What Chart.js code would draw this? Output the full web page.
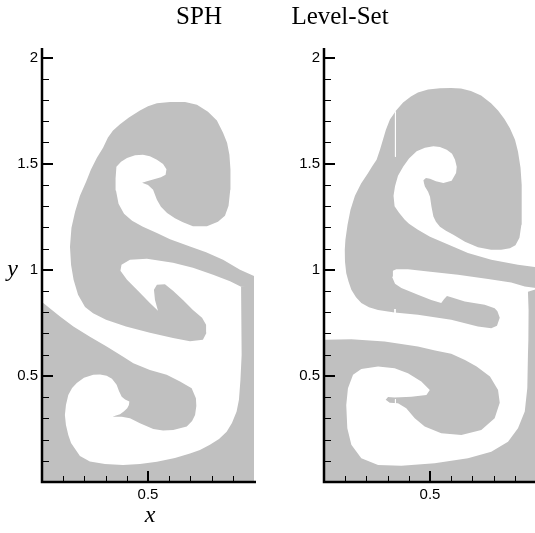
<!DOCTYPE html>
<html>
<head>
<meta charset="utf-8">
<script src="https://cdn.jsdelivr.net/npm/chart.js@4.4.1/dist/chart.umd.min.js"></script>
<style>
html,body{margin:0;padding:0;background:#fff;overflow:hidden;width:535px;height:533px;}
#wrap{position:relative;width:535px;height:533px;overflow:hidden;background:#fff;}
canvas{position:absolute;top:0;}
</style>
</head>
<body>
<div id="wrap">
<canvas id="sph" width="270" height="533" style="left:0;width:270px;height:533px"></canvas>
<canvas id="ls" width="280" height="533" style="left:270px;width:280px;height:533px"></canvas>
</div>
<script>
// ---------- axis ranges and ticks ----------
const xRange = [0, 1];
const yRange = [0, 2.045];
const xLabelTicks = [0.5];
const yLabelTicks = [0.5, 1, 1.5, 2];
const xMinorTicks = [0.1, 0.2, 0.3, 0.4, 0.6, 0.7, 0.8, 0.9];
const yMinorTicks = [0.1, 0.2, 0.3, 0.4, 0.6, 0.7, 0.8, 0.9, 1.1, 1.2, 1.3, 1.4, 1.6, 1.7, 1.8, 1.9];
const panelTitles = ['SPH', 'Level-Set'];
const axisTitles = ['x', 'y'];

// ---------- SPH panel: interface contours (x, y) ----------
const domainBox = [[-0.1,-0.1],[1.1,-0.1],[1.1,2.2],[-0.1,2.2]];

const sphLightFluid = [[-0.02,2.1],[1.02,2.1],[1.02,0.929],[0.939,0.920],[0.941,0.858],[0.942,0.717],[0.942,0.599],[0.936,0.481],[0.929,0.387],[0.918,0.332],[0.896,0.278],[0.871,0.237],[0.835,0.203],[0.792,0.175],[0.745,0.151],[0.698,0.134],[0.627,0.113],[0.542,0.096],[0.462,0.085],[0.382,0.080],[0.297,0.085],[0.226,0.097],[0.179,0.123],[0.137,0.184],[0.124,0.222],[0.113,0.269],[0.108,0.316],[0.113,0.363],[0.124,0.410],[0.142,0.443],[0.164,0.467],[0.198,0.491],[0.242,0.505],[0.274,0.507],[0.305,0.501],[0.330,0.486],[0.352,0.458],[0.363,0.429],[0.376,0.402],[0.392,0.389],[0.412,0.379],[0.410,0.363],[0.402,0.348],[0.387,0.333],[0.368,0.319],[0.349,0.313],[0.333,0.308],[0.376,0.307],[0.415,0.300],[0.462,0.277],[0.525,0.250],[0.571,0.243],[0.619,0.245],[0.683,0.261],[0.708,0.288],[0.722,0.316],[0.728,0.358],[0.726,0.395],[0.706,0.442],[0.651,0.473],[0.588,0.505],[0.509,0.528],[0.431,0.560],[0.383,0.590],[0.305,0.638],[0.226,0.685],[0.148,0.733],[0.085,0.780],[0.006,0.843],[-0.02,0.845]];

const sphPlume = [[1.02,0.962],[0.934,1.000],[0.854,1.047],[0.774,1.083],[0.698,1.110],[0.604,1.144],[0.542,1.173],[0.476,1.203],[0.425,1.231],[0.387,1.264],[0.361,1.311],[0.349,1.373],[0.347,1.429],[0.351,1.486],[0.373,1.509],[0.401,1.527],[0.439,1.540],[0.476,1.542],[0.509,1.535],[0.542,1.519],[0.571,1.498],[0.587,1.474],[0.583,1.448],[0.561,1.436],[0.524,1.425],[0.495,1.417],[0.472,1.410],[0.500,1.399],[0.524,1.377],[0.542,1.330],[0.561,1.297],[0.590,1.267],[0.627,1.243],[0.665,1.224],[0.712,1.205],[0.778,1.205],[0.830,1.226],[0.863,1.255],[0.880,1.302],[0.888,1.377],[0.889,1.472],[0.884,1.542],[0.873,1.599],[0.854,1.646],[0.825,1.703],[0.783,1.745],[0.731,1.778],[0.675,1.790],[0.604,1.790],[0.542,1.785],[0.500,1.771],[0.462,1.750],[0.410,1.717],[0.368,1.686],[0.335,1.656],[0.311,1.623],[0.288,1.575],[0.259,1.528],[0.231,1.472],[0.208,1.415],[0.179,1.349],[0.156,1.274],[0.139,1.198],[0.132,1.108],[0.137,1.024],[0.149,0.953],[0.170,0.882],[0.203,0.825],[0.241,0.795],[0.302,0.764],[0.396,0.733],[0.509,0.703],[0.618,0.679],[0.698,0.663],[0.759,0.670],[0.776,0.703],[0.774,0.741],[0.755,0.774],[0.712,0.811],[0.665,0.858],[0.618,0.901],[0.580,0.932],[0.542,0.929],[0.528,0.906],[0.533,0.858],[0.547,0.807],[0.509,0.844],[0.448,0.906],[0.401,0.953],[0.370,0.995],[0.375,1.024],[0.415,1.047],[0.495,1.052],[0.618,1.033],[0.712,1.009],[0.807,0.976],[0.887,0.946],[0.939,0.920],[1.02,0.915]];

// ---------- Level-Set panel: interface contours (x, y) ----------
const lsLightFluid = [[-0.02,2.1],[1.02,2.1],[1.02,0.915],[0.962,0.896],[0.965,0.811],[0.964,0.670],[0.962,0.599],[0.959,0.443],[0.947,0.332],[0.915,0.253],[0.868,0.190],[0.789,0.143],[0.679,0.112],[0.522,0.088],[0.365,0.077],[0.255,0.080],[0.176,0.112],[0.129,0.175],[0.110,0.253],[0.105,0.363],[0.113,0.442],[0.137,0.505],[0.176,0.533],[0.255,0.544],[0.333,0.536],[0.396,0.513],[0.459,0.473],[0.499,0.434],[0.483,0.410],[0.412,0.402],[0.333,0.398],[0.302,0.401],[0.291,0.387],[0.310,0.374],[0.349,0.371],[0.388,0.348],[0.428,0.300],[0.475,0.261],[0.553,0.230],[0.648,0.222],[0.742,0.245],[0.805,0.300],[0.829,0.373],[0.821,0.434],[0.783,0.497],[0.720,0.544],[0.665,0.575],[0.600,0.604],[0.524,0.620],[0.443,0.638],[0.286,0.662],[0.129,0.673],[0.003,0.670],[-0.02,0.670]];

const lsPlume = [[1.02,1.014],[0.994,1.013],[0.915,1.024],[0.789,1.047],[0.679,1.079],[0.569,1.126],[0.500,1.156],[0.443,1.189],[0.401,1.217],[0.381,1.236],[0.354,1.269],[0.333,1.299],[0.328,1.349],[0.335,1.393],[0.349,1.443],[0.374,1.487],[0.401,1.524],[0.437,1.558],[0.476,1.575],[0.516,1.582],[0.547,1.578],[0.579,1.566],[0.604,1.547],[0.618,1.519],[0.626,1.486],[0.623,1.456],[0.602,1.420],[0.563,1.409],[0.528,1.417],[0.500,1.429],[0.481,1.432],[0.469,1.422],[0.472,1.406],[0.476,1.392],[0.491,1.368],[0.500,1.344],[0.507,1.297],[0.516,1.251],[0.528,1.226],[0.547,1.203],[0.575,1.184],[0.610,1.165],[0.665,1.132],[0.726,1.106],[0.788,1.094],[0.836,1.094],[0.877,1.101],[0.903,1.116],[0.922,1.151],[0.931,1.212],[0.933,1.307],[0.932,1.401],[0.927,1.481],[0.915,1.557],[0.901,1.613],[0.877,1.667],[0.851,1.710],[0.821,1.750],[0.788,1.785],[0.741,1.821],[0.693,1.842],[0.646,1.854],[0.599,1.857],[0.547,1.855],[0.491,1.849],[0.443,1.835],[0.410,1.816],[0.373,1.788],[0.340,1.750],[0.311,1.708],[0.292,1.660],[0.278,1.613],[0.264,1.566],[0.248,1.519],[0.226,1.486],[0.208,1.456],[0.175,1.406],[0.146,1.349],[0.125,1.283],[0.111,1.212],[0.101,1.142],[0.098,1.094],[0.099,1.038],[0.105,0.984],[0.116,0.943],[0.129,0.906],[0.151,0.870],[0.176,0.843],[0.212,0.823],[0.255,0.811],[0.333,0.799],[0.443,0.788],[0.600,0.764],[0.726,0.733],[0.789,0.725],[0.816,0.736],[0.829,0.774],[0.818,0.804],[0.805,0.819],[0.758,0.835],[0.664,0.850],[0.600,0.870],[0.580,0.877],[0.566,0.861],[0.553,0.844],[0.506,0.858],[0.443,0.882],[0.365,0.914],[0.335,0.934],[0.321,0.967],[0.325,0.995],[0.341,1.003],[0.396,1.003],[0.491,0.992],[0.632,0.976],[0.774,0.956],[0.883,0.940],[0.947,0.921],[1.02,0.912]];

const lsGridSeams = [
  [[0.337,1.745],[0.337,1.533]],
  [[0.335,0.815],[0.335,0.796]],
  [[0.337,0.390],[0.337,0.368]]
];

// ---------- styling ----------
const GRAY = 'rgb(192,192,192)';
const WHITE = '#ffffff';
const tickFont = { family: "'Liberation Sans', Arial, sans-serif", size: 15 };

function region(points, color, order) {
  return {
    data: points.map(p => ({ x: p[0], y: p[1] })),
    showLine: true, fill: 'shape', backgroundColor: color,
    borderWidth: 0, borderColor: 'rgba(0,0,0,0)', pointRadius: 0, order: order
  };
}
function seam(points) {
  return {
    data: points.map(p => ({ x: p[0], y: p[1] })),
    showLine: true, fill: false, borderColor: WHITE, borderWidth: 1,
    pointRadius: 0, order: 0
  };
}

const axisPlugin = {
  id: 'tecAxes',
  afterDatasetsDraw(chart) {
    const { ctx, chartArea: a, scales: { x, y } } = chart;
    ctx.save();
    ctx.strokeStyle = '#000';
    ctx.lineCap = 'butt';
    ctx.lineWidth = 1;
    ctx.beginPath();
    for (const v of yMinorTicks) {
      const py = Math.round(y.getPixelForValue(v)) + 0.5;
      ctx.moveTo(a.left, py); ctx.lineTo(a.left + 7, py);
    }
    for (const v of xMinorTicks) {
      const px = Math.round(x.getPixelForValue(v)) + 0.5;
      ctx.moveTo(px, a.bottom); ctx.lineTo(px, a.bottom - 6);
    }
    ctx.stroke();
    ctx.lineWidth = 2;
    ctx.beginPath();
    for (const v of yLabelTicks) {
      const py = Math.round(y.getPixelForValue(v));
      ctx.moveTo(a.left, py); ctx.lineTo(a.left + 11, py);
    }
    for (const v of xLabelTicks) {
      const px = Math.round(x.getPixelForValue(v));
      ctx.moveTo(px, a.bottom); ctx.lineTo(px, a.bottom - 11);
    }
    ctx.stroke();
    ctx.lineWidth = 2.5;
    ctx.lineJoin = 'miter';
    ctx.beginPath();
    ctx.moveTo(a.left, a.top);
    ctx.lineTo(a.left, a.bottom);
    ctx.lineTo(a.right + 2, a.bottom);
    ctx.stroke();
    ctx.restore();
  }
};

const textPlugin = {
  id: 'panelText',
  afterDraw(chart, args, opts) {
    const ctx = chart.ctx;
    for (const t of (opts.items || [])) {
      ctx.save();
      ctx.font = t.font;
      ctx.fillStyle = '#000';
      ctx.textAlign = 'center';
      ctx.textBaseline = 'alphabetic';
      ctx.fillText(t.text, t.x, t.y);
      ctx.restore();
    }
  }
};

function makePanel(id, datasets, yBoxWidth, padRight, texts) {
  return new Chart(document.getElementById(id), {
    type: 'scatter',
    data: { datasets: datasets },
    options: {
      responsive: false, animation: false, devicePixelRatio: 1, events: [],
      layout: { padding: { left: 0, top: 48, right: padRight, bottom: 0 } },
      plugins: { legend: { display: false }, tooltip: { enabled: false }, panelText: { items: texts } },
      scales: {
        x: {
          type: 'linear', min: xRange[0], max: xRange[1],
          grid: { display: false, drawTicks: false }, border: { display: false },
          afterFit: s => { s.height = 51; },
          afterBuildTicks: s => { s.ticks = xLabelTicks.map(v => ({ value: v })); },
          ticks: { padding: 4, color: '#000', font: tickFont, autoSkip: false, maxRotation: 0, callback: v => String(v) }
        },
        y: {
          type: 'linear', min: yRange[0], max: yRange[1],
          grid: { display: false, drawTicks: false }, border: { display: false },
          afterFit: s => { s.width = yBoxWidth; },
          afterBuildTicks: s => { s.ticks = yLabelTicks.map(v => ({ value: v })); },
          ticks: { padding: 4, color: '#000', font: tickFont, autoSkip: false, callback: v => String(v) }
        }
      }
    },
    plugins: [axisPlugin, textPlugin]
  });
}

makePanel('sph', [
  region(sphPlume, GRAY, 1),
  region(sphLightFluid, WHITE, 2),
  region(domainBox, GRAY, 3)
], 42, 16, [
  { text: panelTitles[0], x: 199, y: 24, font: "25px 'Liberation Serif', 'Times New Roman', serif" },
  { text: axisTitles[1], x: 12.5, y: 276, font: "italic 24px 'Liberation Serif', 'Times New Roman', serif" },
  { text: axisTitles[0], x: 150, y: 522, font: "italic 24px 'Liberation Serif', 'Times New Roman', serif" }
]);

makePanel('ls', [
  ...lsGridSeams.map(seam),
  region(lsPlume, GRAY, 1),
  region(lsLightFluid, WHITE, 2),
  region(domainBox, GRAY, 3)
], 54, 14, [
  { text: panelTitles[1], x: 70, y: 24, font: "25px 'Liberation Serif', 'Times New Roman', serif" }
]);
</script>
</body>
</html>
